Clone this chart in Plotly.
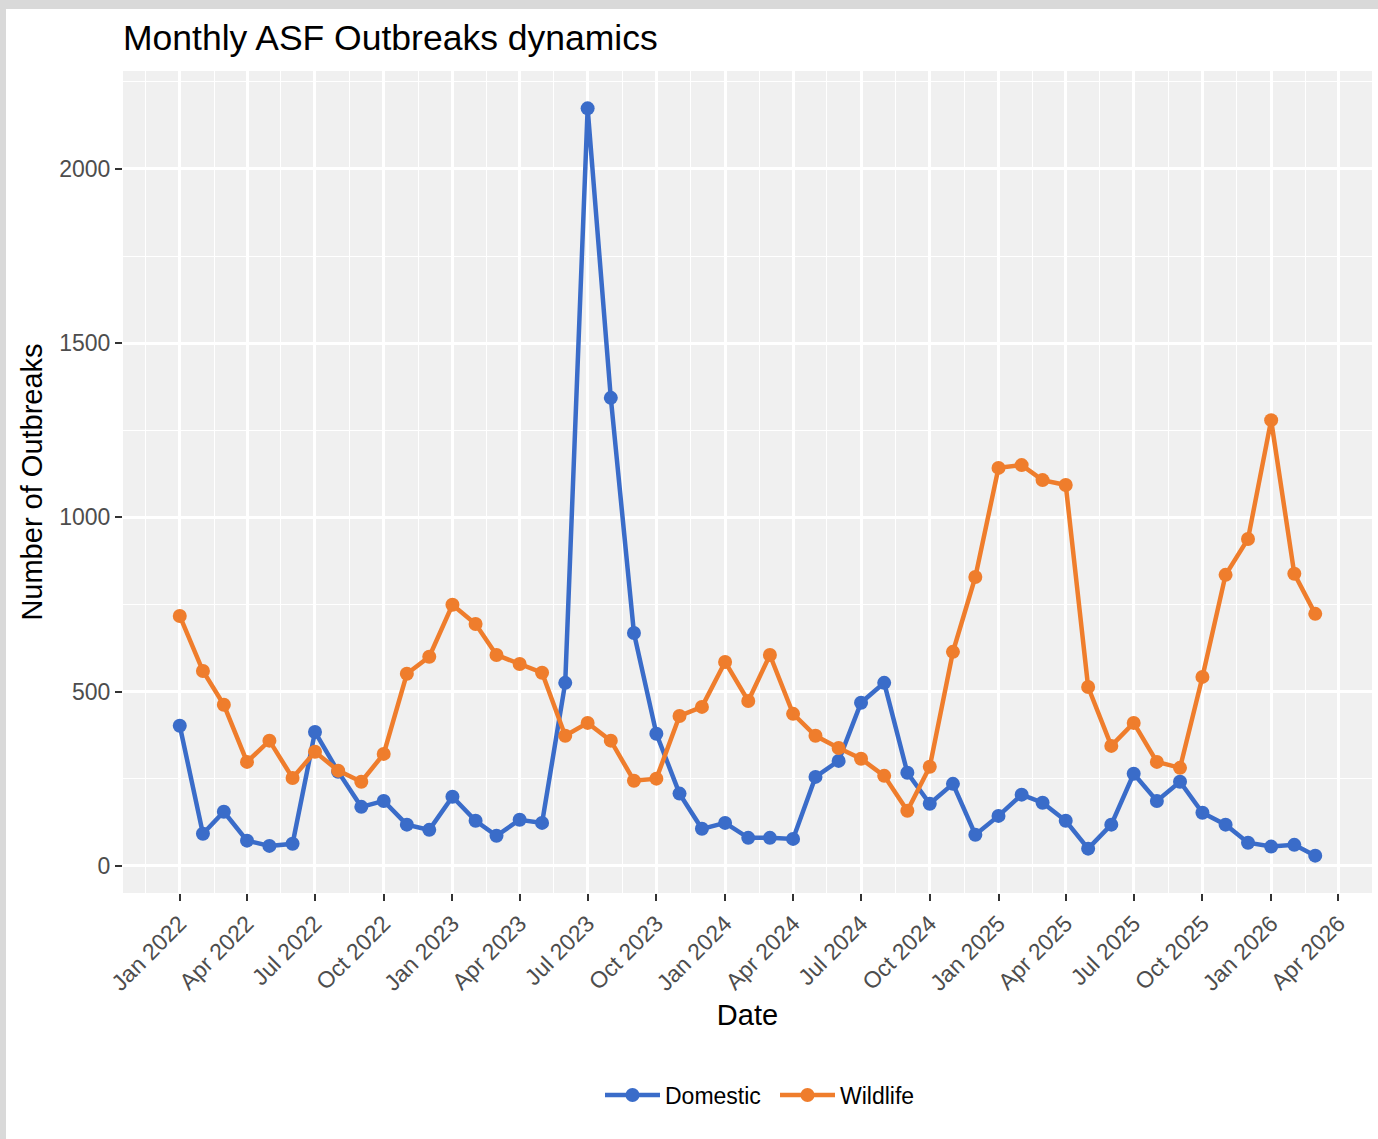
import pandas as pd
import plotly.graph_objects as go

months = pd.date_range("2022-01-01", periods=51, freq="MS")

domestic = [402, 92, 155, 72, 57, 63, 384, 270, 169, 186, 118, 103,
            198, 129, 86, 132, 123, 525, 2174, 1343, 668, 379, 207, 106,
            123, 80, 80, 77, 255, 301, 468, 525, 267, 178, 235, 89,
            143, 204, 181, 129, 49, 118, 264, 186, 241, 152, 118, 66,
            55, 60, 29]

wildlife = [717, 559, 462, 298, 359, 252, 327, 273, 241, 321, 551, 600,
            749, 694, 605, 579, 554, 373, 410, 359, 244, 250, 430, 456,
            585, 473, 605, 436, 373, 338, 307, 258, 158, 284, 614, 829,
            1142, 1150, 1107, 1093, 513, 344, 410, 298, 281, 542, 835, 938,
            1279, 838, 723]

series_names = ["Domestic", "Wildlife"]
series_colors = ["#3A6CC9", "#EF7D2C"]

W, H = 1378, 1139
ML, MR, MT, MB = 123, 6, 71, 246
PW, PH = W - ML - MR, H - MT - MB

fig = go.Figure()
for name, vals, col in zip(series_names, [domestic, wildlife], series_colors):
    fig.add_trace(go.Scatter(
        x=months, y=vals, name=name, mode="lines+markers",
        line=dict(color=col, width=4.5),
        marker=dict(color=col, size=14),
    ))

# ggplot-like 5% expansion
x0, x1 = months.min(), months.max()
span = x1 - x0
xr = [x0 - span * 0.05, x1 + span * 0.05]
allv = domestic + wildlife
ymin, ymax = min(allv), max(allv)
yr = [ymin - (ymax - ymin) * 0.05, ymax + (ymax - ymin) * 0.05]

font_family = "Liberation Sans, Arial, sans-serif"

fig.update_layout(
    width=W, height=H,
    margin=dict(l=ML, r=MR, t=MT, b=MB),
    paper_bgcolor="#FFFFFF",
    plot_bgcolor="#F0F0F0",
    font=dict(family=font_family, color="#000000"),
    title=dict(text="Monthly ASF Outbreaks dynamics", x=ML / W, xanchor="left",
               y=1 - 38 / H, yanchor="middle", yref="container",
               font=dict(size=35.5, color="#000000")),
    showlegend=True,
    legend=dict(orientation="h", x=(600 - ML) / PW, xanchor="left",
                y=(MT + PH - 1095) / PH, yanchor="middle",
                font=dict(size=23, color="#000000"),
                itemwidth=55,
                entrywidth=105, entrywidthmode="pixels",
                bgcolor="rgba(0,0,0,0)"),
    shapes=[
        dict(type="rect", xref="paper", yref="paper", layer="above",
             x0=-ML / PW, x1=(W - ML) / PW,
             y0=(MT + PH - 9) / PH, y1=(MT + PH) / PH,
             fillcolor="#D9D9D9", line=dict(width=0)),
        dict(type="rect", xref="paper", yref="paper", layer="above",
             x0=-ML / PW, x1=(6 - ML) / PW,
             y0=-MB / PH, y1=(MT + PH) / PH,
             fillcolor="#D9D9D9", line=dict(width=0)),
    ],
)

fig.update_xaxes(
    range=xr, type="date",
    tickmode="linear", tick0="2022-01-01", dtick="M3", tickformat="%b %Y",
    tickangle=-45, tickfont=dict(size=23, color="#4D4D4D"),
    ticks="outside", ticklen=7, tickwidth=2, tickcolor="#333333",
    showgrid=True, gridcolor="#FFFFFF", gridwidth=2.5,
    minor=dict(tick0="2021-11-16", dtick="M3", showgrid=True,
               gridcolor="#FFFFFF", gridwidth=1.2),
    zeroline=False, showline=False,
    title=dict(text="Date", font=dict(size=29, color="#000000"), standoff=10),
)
fig.update_yaxes(
    range=yr, tickmode="linear", tick0=0, dtick=500,
    tickfont=dict(size=23, color="#4D4D4D"),
    ticks="outside", ticklen=7, tickwidth=2, tickcolor="#333333",
    showgrid=True, gridcolor="#FFFFFF", gridwidth=2.5,
    minor=dict(tick0=250, dtick=500, showgrid=True,
               gridcolor="#FFFFFF", gridwidth=1.2),
    zeroline=False, showline=False,
    title=dict(text="Number of Outbreaks", font=dict(size=29, color="#000000"), standoff=8),
)

fig.write_html("out.html", config={"displayModeBar": False},
               post_script="document.body.style.margin='0px';")
